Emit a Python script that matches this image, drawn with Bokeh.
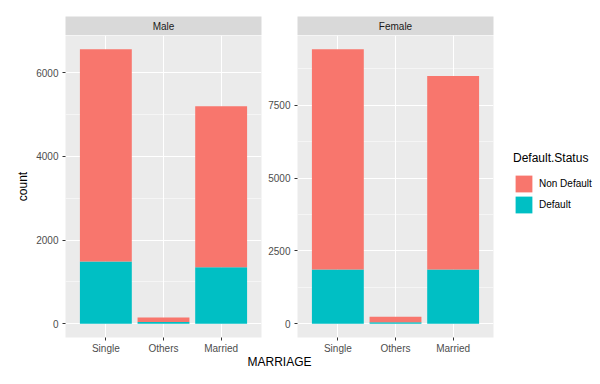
from bokeh.plotting import figure
from bokeh.models import (ColumnDataSource, FactorRange, Range1d, FixedTicker,
                          Legend, LegendItem, Label)
from bokeh.layouts import row, column
from bokeh.embed import file_html
from bokeh.resources import INLINE

# ---- data ----
categories = ["Single", "Others", "Married"]
panels = ["Male", "Female"]
statuses = ["Non Default", "Default"]
male_non_default = [5070, 108, 3850]
male_default = [1490, 44, 1350]
female_non_default = [7560, 185, 6640]
female_default = [1860, 55, 1862]
male_ticks = [0, 2000, 4000, 6000]
male_minor = [1000, 3000, 5000]
female_ticks = [0, 2500, 5000, 7500]
female_minor = [1250, 3750, 6250, 8750]
x_title = "MARRIAGE"
y_title = "count"
legend_title = "Default.Status"

FONT = "Liberation Sans"
PINK = "#F8766D"
TEAL = "#00BFC4"

# layout constants (pixels)
M_W, M_L, M_R = 263, 65, 2
F_W, F_L, F_R = 234, 34, 4
LEG_W = 103
STRIP_H, STRIP_TOP = 35, 16
PANEL_H, PANEL_BOTTOM = 321, 18
LAB_H = 28


def strip_fig(label, width, left, right):
    s = figure(width=width, height=STRIP_H, x_range=Range1d(0, 1), y_range=Range1d(0, 1),
               x_axis_location=None, y_axis_location=None, toolbar_location=None,
               output_backend="svg", min_border_left=left, min_border_right=right,
               min_border_top=STRIP_TOP, min_border_bottom=0)
    s.background_fill_color = "#D9D9D9"
    s.border_fill_color = "white"
    s.outline_line_color = None
    s.xgrid.visible = False
    s.ygrid.visible = False
    s.add_layout(Label(x=0.5, y=0.5, text=label, text_align="center", text_baseline="middle",
                       text_font=FONT, text_font_size="10px", text_color="#1A1A1A"))
    return s


def make_panel(non_def, dflt, ticks, minor, width, left, right, ylabel=None):
    totals = [a + b for a, b in zip(non_def, dflt)]
    top = max(totals)
    src = ColumnDataSource(dict(cat=categories, Default=dflt, NonDefault=non_def))
    p = figure(width=width, height=PANEL_H,
               x_range=FactorRange(*categories, range_padding=0.2, range_padding_units="absolute"),
               y_range=Range1d(-0.05 * top, 1.05 * top),
               toolbar_location=None, output_backend="svg",
               min_border_left=left, min_border_right=right,
               min_border_top=0, min_border_bottom=PANEL_BOTTOM)
    rs = p.vbar_stack(["Default", "NonDefault"], x="cat", width=0.9,
                      fill_color=[TEAL, PINK], line_color=None, source=src)
    p.background_fill_color = "#EBEBEB"
    p.border_fill_color = "white"
    p.outline_line_color = None
    tk = FixedTicker(ticks=ticks, minor_ticks=minor)
    p.yaxis.ticker = tk
    p.ygrid.ticker = tk
    p.xgrid.grid_line_color = "white"
    p.xgrid.grid_line_width = 1
    p.ygrid.grid_line_color = "white"
    p.ygrid.grid_line_width = 1
    p.ygrid.minor_grid_line_color = "white"
    p.ygrid.minor_grid_line_width = 0.5
    for ax in p.axis:
        ax.axis_line_color = None
        ax.major_tick_line_color = "#333333"
        ax.major_tick_out = 3
        ax.major_tick_in = 0
        ax.minor_tick_line_color = None
        ax.major_label_text_font = FONT
        ax.major_label_text_font_size = "10px"
        ax.major_label_text_color = "#4D4D4D"
        ax.major_label_standoff = 2
    p.yaxis.major_label_standoff = 3
    if ylabel:
        p.yaxis.axis_label = ylabel
        p.yaxis.axis_label_text_font = FONT
        p.yaxis.axis_label_text_font_size = "12px"
        p.yaxis.axis_label_text_font_style = "normal"
        p.yaxis.axis_label_text_color = "black"
        p.yaxis.axis_label_standoff = 3
    return p


strip_m = strip_fig(panels[0], M_W, M_L, M_R)
panel_m = make_panel(male_non_default, male_default, male_ticks, male_minor,
                     M_W, M_L, M_R, ylabel=y_title)
strip_f = strip_fig(panels[1], F_W, F_L, F_R)
panel_f = make_panel(female_non_default, female_default, female_ticks, female_minor,
                     F_W, F_L, F_R)

# legend lives in its own small figure; its renderers are hidden key holders
leg_h = STRIP_H + PANEL_H
lf = figure(width=LEG_W, height=leg_h, x_range=Range1d(0, 1), y_range=Range1d(0, 1),
            x_axis_location=None, y_axis_location=None, toolbar_location=None,
            output_backend="svg", min_border=0)
lf.outline_line_color = None
lf.xgrid.visible = False
lf.ygrid.visible = False
key_colors = [PINK, TEAL]
key_src = ColumnDataSource(dict(x=[0], top=[0]))
items = []
for st, col in zip(statuses, key_colors):
    r = lf.vbar(x="x", top="top", width=0.9, fill_color=col, line_color=None, source=key_src)
    r.visible = False
    items.append(LegendItem(label=st, renderers=[r]))
legend = Legend(items=items, location=(16, 141), title=legend_title,
                title_text_font=FONT, title_text_font_size="12px",
                title_text_font_style="normal", title_text_color="black",
                title_standoff=8,
                label_text_font=FONT, label_text_font_size="10px", label_text_color="black",
                glyph_width=21, glyph_height=21, label_height=21, label_standoff=5,
                spacing=-2, padding=0, margin=0,
                border_line_color=None, background_fill_alpha=0)
lf.add_layout(legend)

total_w = M_W + F_W + LEG_W
lab = figure(width=total_w, height=LAB_H, x_range=Range1d(0, total_w),
             y_range=Range1d(356 + LAB_H, 356),
             x_axis_location=None, y_axis_location=None, toolbar_location=None,
             output_backend="svg", min_border=0)
lab.outline_line_color = None
lab.xgrid.visible = False
lab.ygrid.visible = False
x_center = (M_L + (M_W + F_W - F_R)) / 2
lab.add_layout(Label(x=x_center, y=361, text=x_title, text_align="center", text_baseline="middle",
                     text_font=FONT, text_font_size="12px", text_color="black"))

layout = column(row(column(strip_m, panel_m), column(strip_f, panel_f), lf), lab)

open("out.html", "w").write(file_html(layout, INLINE))
